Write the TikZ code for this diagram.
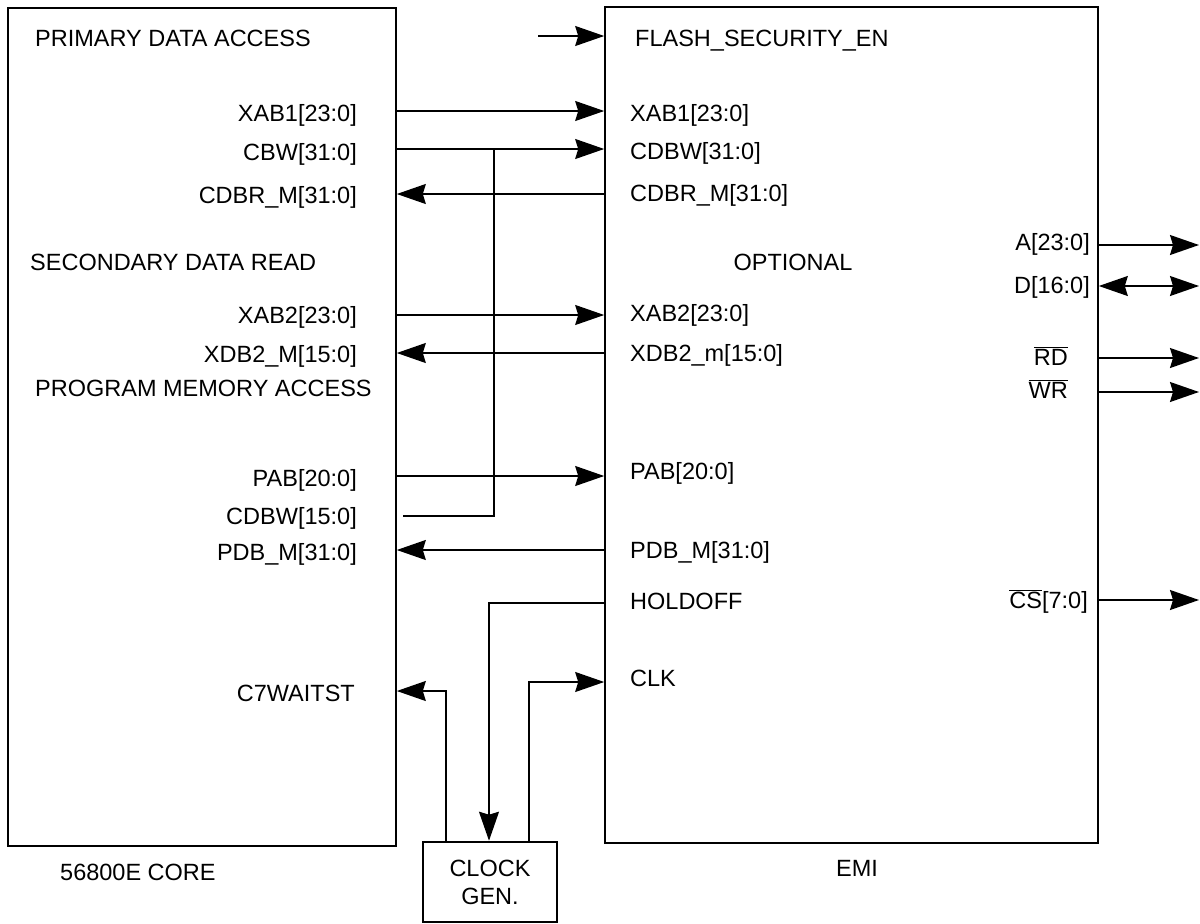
\documentclass[tikz,border=0pt]{standalone}
\usepackage{fontspec}
\setmainfont{Liberation Sans}
\usetikzlibrary{arrows.meta}
\begin{document}
\begin{tikzpicture}[x=1pt,y=-1pt,
  box/.style={draw, line width=1.6pt, inner sep=0pt},
  wire/.style={line width=1.5pt},
  sig/.style={wire, -{Stealth[length=29pt,width=20pt,inset=3pt]}},
  bsig/.style={wire, {Stealth[length=29pt,width=20pt,inset=3pt]}-{Stealth[length=29pt,width=20pt,inset=3pt]}},
  lbl/.style={inner sep=0pt, font=\fontsize{23.5}{28}\selectfont},
  lw/.style={lbl, anchor=base west},
  le/.style={lbl, anchor=base east},
  lc/.style={lbl, anchor=base}]
\useasboundingbox (0,0) rectangle (1200,924);
% boxes
\node[box, minimum width=388pt, minimum height=838pt] (core) at (202,427) {};
\node[box, minimum width=493pt, minimum height=836pt] (emi) at (851.5,425) {};
\node[box, line width=2.6pt, minimum width=134pt, minimum height=80pt] (clk) at (490,882) {};
% levels
\coordinate (yfse) at (538,36);
\coordinate (y1) at (0,111);
\coordinate (y2) at (0,149);
\coordinate (y3) at (0,194);
\coordinate (y4) at (0,315);
\coordinate (y5) at (0,353);
\coordinate (y6) at (0,476);
\coordinate (y7) at (0,550);
\coordinate (yhold) at (489,603);
\coordinate (yclk) at (529,682);
\coordinate (ywait) at (446,691);
\coordinate (j) at (494,149);
\coordinate (cdbw) at (403,516);
\coordinate (ra) at (1199,245);
\coordinate (rd) at (1199,286);
\coordinate (rrd) at (1199,358);
\coordinate (rwr) at (1199,392);
\coordinate (rcs) at (1199,600);
% connectors
\draw[sig] (yfse) -- (emi.west |- yfse);
\draw[sig] (core.east |- y1) -- (emi.west |- y1);
\draw[sig] (core.east |- y2) -- (emi.west |- y2);
\draw[sig] (emi.west |- y3) -- (core.east |- y3);
\draw[sig] (core.east |- y4) -- (emi.west |- y4);
\draw[sig] (emi.west |- y5) -- (core.east |- y5);
\draw[sig] (core.east |- y6) -- (emi.west |- y6);
\draw[sig] (emi.west |- y7) -- (core.east |- y7);
\draw[wire] (cdbw) -| (j);
\draw[sig] (emi.west |- yhold) -- (yhold) -- (clk.north -| yhold);
\draw[sig] (clk.north -| yclk) -- (yclk) -- (emi.west |- yclk);
\draw[sig] (clk.north -| ywait) -- (ywait) -- (core.east |- ywait);
\draw[sig] (emi.east |- ra) -- (ra);
\draw[bsig] (emi.east |- rd) -- (rd);
\draw[sig] (emi.east |- rrd) -- (rrd);
\draw[sig] (emi.east |- rwr) -- (rwr);
\draw[sig] (emi.east |- rcs) -- (rcs);
% core labels
\node[lw] (t1) at (35,46) {PRIMARY DATA ACCESS};
\node[lw] (t2) at (30,270) {SECONDARY DATA READ};
\node[lw] (t3) at (35,396) {PROGRAM MEMORY ACCESS};
\node[le] (c1) at (357,121) {XAB1[23:0]};
\node[le] (c2) at (357,160) {CBW[31:0]};
\node[le] (c3) at (357,203) {CDBR\_M[31:0]};
\node[le] (c4) at (357,323) {XAB2[23:0]};
\node[le] (c5) at (357,362) {XDB2\_M[15:0]};
\node[le] (c6) at (357,486) {PAB[20:0]};
\node[le] (c7) at (357,524) {CDBW[15:0]};
\node[le] (c8) at (357,560) {PDB\_M[31:0]};
\node[le] (c9) at (355,701) {C7WAITST};
\node[lw] (cn) at (60,880) {56800E CORE};
% emi labels
\node[lw] (e0) at (635,46) {FLASH\_SECURITY\_EN};
\node[lw] (e1) at (630,121) {XAB1[23:0]};
\node[lw] (e2) at (630,159) {CDBW[31:0]};
\node[lw] (e3) at (630,201) {CDBR\_M[31:0]};
\node[lc] (eo) at (793,270) {OPTIONAL};
\node[lw] (e4) at (630,321) {XAB2[23:0]};
\node[lw] (e5) at (630,361) {XDB2\_m[15:0]};
\node[lw] (e6) at (630,479) {PAB[20:0]};
\node[lw] (e7) at (630,558) {PDB\_M[31:0]};
\node[lw] (e8) at (630,609) {HOLDOFF};
\node[lw] (e9) at (630,686) {CLK};
\node[lc] (en) at (857,876) {EMI};
\node[le] (r1) at (1090,250) {A[23:0]};
\node[le] (r2) at (1090,293) {D[16:0]};
\node[le] (r3) at (1068,365) {$\overline{\hbox{RD}}$};
\node[le] (r4) at (1068,398) {$\overline{\hbox{WR}}$};
\node[le] (r5) at (1088,608) {$\overline{\hbox{CS}}$[7:0]};
% clock gen label
\node[lc] (k1) at (490,876) {CLOCK};
\node[lc] (k2) at (490,904) {GEN.};
\end{tikzpicture}
\end{document}
